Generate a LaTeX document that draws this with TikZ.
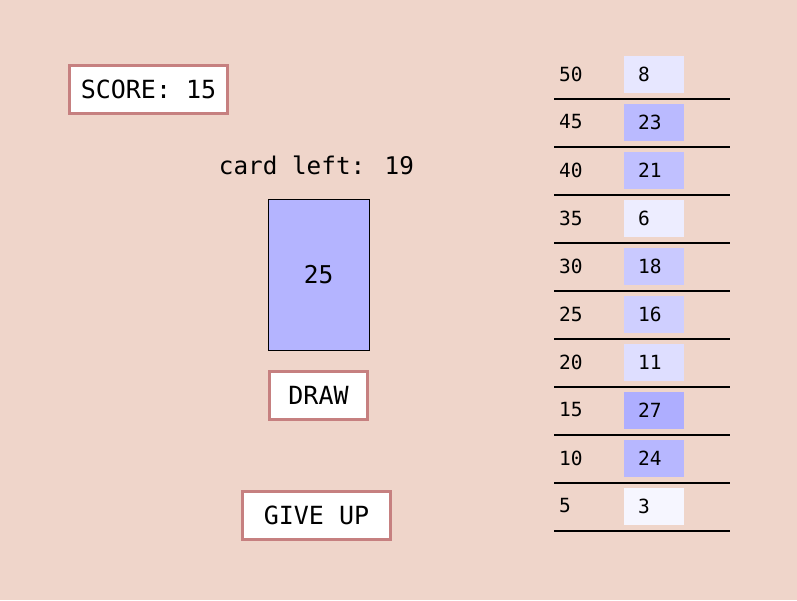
\documentclass[tikz,border=0pt]{standalone}
\usepackage{fontspec}
\setmainfont{DejaVu Sans Mono}
\definecolor{bg}{RGB}{239,213,202}
\definecolor{btnborder}{RGB}{198,128,128}
\tikzset{
  btn/.style={draw=btnborder, line width=3pt, fill=white, inner sep=0pt, font=\fontsize{25}{28}\selectfont},
  lbl/.style={inner sep=0pt, font=\fontsize{24.3}{27}\selectfont},
  rowlbl/.style={inner sep=0pt, anchor=west, font=\fontsize{19.5}{22}\selectfont},
  sep/.style={line width=2pt, black},
}
\begin{document}
\begin{tikzpicture}[x=1pt,y=-1pt]
\fill[bg] (0,0) rectangle (797,600);
\useasboundingbox (0,0) rectangle (797,600);

\node[btn, minimum width=158pt, minimum height=48pt] (score) at (148.5,89.5) {SCORE: 15};
\node[lbl] (left) at (316.5,165) {card left: 19};
\node[draw=black, line width=0.8pt, fill={rgb,255:red,180;green,180;blue,255}, minimum width=101pt, minimum height=151pt, inner sep=0pt, font=\fontsize{24.5}{27}\selectfont] (card) at (318.5,274.5) {25};
\node[btn, minimum width=98pt, minimum height=48pt] (draw) at (318.5,395) {DRAW};
\node[btn, minimum width=148pt, minimum height=48pt] (giveup) at (316.5,515) {GIVE UP};

% table
\foreach \lab/\val/\sh [count=\i from 0] in {50/8/231,45/23/186,40/21/192,35/6/237,30/18/201,25/16/207,20/11/222,15/27/174,10/24/183,5/3/246}{
  \pgfmathsetmacro{\yc}{74+48*\i}
  \node[rowlbl] (r\i) at (559,\yc) {\lab};
  \fill[fill={rgb,255:red,\sh;green,\sh;blue,255}] (624,\yc-18) rectangle (684,\yc+19);
  \node[rowlbl] (v\i) at (638,\yc) {\val};
  \draw[sep] (554,\yc+25) -- (730,\yc+25);
}
\end{tikzpicture}
\end{document}
